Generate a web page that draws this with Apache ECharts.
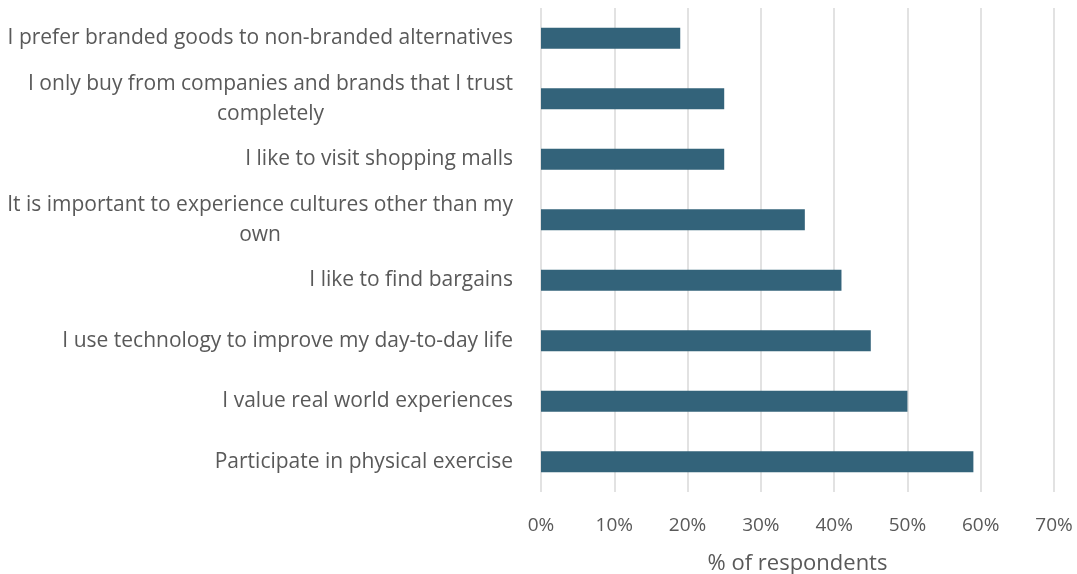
<!DOCTYPE html>
<html><head><meta charset="utf-8">
<script src="https://cdn.jsdelivr.net/npm/echarts@6/dist/echarts.min.js"></script>
<style>html,body{margin:0;padding:0;background:#fff}#c{width:1077px;height:574px}</style>
</head><body><div id="c"></div>
<script>
const categories = [
  'I prefer branded goods to non-branded alternatives',
  'I only buy from companies and brands that I trust\ncompletely',
  'I like to visit shopping malls',
  'It is important to experience cultures other than my\nown',
  'I like to find bargains',
  'I use technology to improve my day-to-day life',
  'I value real world experiences',
  'Participate in physical exercise'
];
const values = [19, 25, 25, 36, 41, 45, 50, 59];
const xTicks = [0, 10, 20, 30, 40, 50, 60, 70];
const axisTitle = '% of respondents';

const font = 'Open Sans';
const chart = echarts.init(document.getElementById('c'));
chart.setOption({
  animation: false,
  grid: {left: 541, right: 23, top: 8, bottom: 82, containLabel: false, outerBoundsMode: 'none'},
  xAxis: {
    type: 'value', min: xTicks[0], max: xTicks[xTicks.length-1], interval: 10,
    axisLine: {show: false}, axisTick: {show: false},
    splitLine: {lineStyle: {color: '#d9d9d9', width: 1.5}},
    axisLabel: {formatter: v => v + '%', color: '#595959', fontSize: 19, fontFamily: font, margin: 24},
    name: axisTitle, nameLocation: 'middle', nameGap: 61,
    nameTextStyle: {color: '#595959', fontSize: 22, fontFamily: font}
  },
  yAxis: {
    type: 'category', data: categories, inverse: true,
    axisLine: {show: false}, axisTick: {show: false},
    axisLabel: {
      margin: 28, color: '#595959', fontSize: 21, fontFamily: font, lineHeight: 30,
      formatter: v => v.split('\n').map(s => '{c|' + s + '}').join('\n'),
      rich: {c: {align: 'center', color: '#595959', fontSize: 21, fontFamily: font, lineHeight: 30}}
    }
  },
  series: [{
    type: 'bar', data: values, barWidth: 21,
    itemStyle: {color: '#33637a'}
  }]
});
</script></body></html>
